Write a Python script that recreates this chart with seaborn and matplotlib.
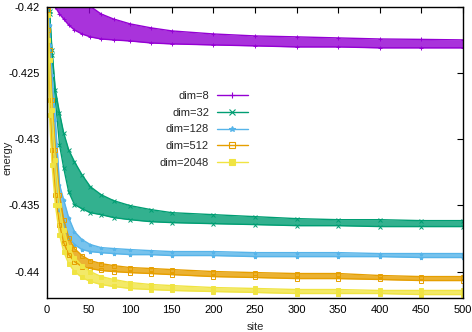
import numpy as np
import pandas as pd
import matplotlib
matplotlib.use('Agg')
import matplotlib.pyplot as plt
from matplotlib.lines import Line2D
from matplotlib.ticker import FuncFormatter
import seaborn as sns

# sample sites (the data zigzag between an upper and a lower value, read as envelopes)
sites = [1, 3, 6, 10, 15, 20, 26, 33, 42, 52, 65, 80, 100, 125, 150,
         200, 250, 300, 350, 400, 450, 500]

e8_hi = [-0.4170, -0.4172, -0.4175, -0.4178, -0.4182, -0.4186, -0.4190, -0.4194,
         -0.4197, -0.41995, -0.42053, -0.42091, -0.42128, -0.42158, -0.42181,
         -0.42204, -0.42219, -0.42226, -0.42234, -0.42242, -0.42245, -0.42249]
e8_lo = [-0.4185, -0.4188, -0.4193, -0.4200, -0.42053, -0.42091, -0.42136, -0.42174,
         -0.42204, -0.42226, -0.42242, -0.42249, -0.42257, -0.42272, -0.42279,
         -0.42287, -0.42294, -0.42302, -0.42302, -0.42309, -0.42309, -0.42309]

e32_hi = [-0.4190, -0.4203, -0.42325, -0.42626, -0.42800, -0.42951, -0.43079, -0.43170,
          -0.43268, -0.43358, -0.43419, -0.43464, -0.43502, -0.43532, -0.43555,
          -0.43570, -0.43585, -0.43600, -0.43608, -0.43608, -0.43615, -0.43615]
e32_lo = [-0.4195, -0.4205, -0.42362, -0.42702, -0.43041, -0.43215, -0.43396, -0.43494,
          -0.43525, -0.43555, -0.43570, -0.43592, -0.43608, -0.43623, -0.43630,
          -0.43638, -0.43645, -0.43653, -0.43653, -0.43660, -0.43660, -0.43660]

e128_hi = [-0.4192, -0.42136, -0.42513, -0.42853, -0.43343, -0.43457, -0.43592, -0.43698,
           -0.43758, -0.43796, -0.43819, -0.43826, -0.43834, -0.43842, -0.43849,
           -0.43849, -0.43857, -0.43857, -0.43857, -0.43864, -0.43864, -0.43864]
e128_lo = [-0.4197, -0.42287, -0.42777, -0.43155, -0.43532, -0.43645, -0.43743, -0.43796,
           -0.43834, -0.43849, -0.43857, -0.43864, -0.43872, -0.43872, -0.43879,
           -0.43879, -0.43887, -0.43887, -0.43887, -0.43887, -0.43894, -0.43894]

e512_hi = [-0.42023, -0.42325, -0.42702, -0.43079, -0.43419, -0.43608, -0.43743, -0.43826,
           -0.43879, -0.43917, -0.43940, -0.43955, -0.43970, -0.43977, -0.43985,
           -0.44000, -0.44008, -0.44015, -0.44015, -0.44030, -0.44038, -0.44038]
e512_lo = [-0.42174, -0.42702, -0.43079, -0.43419, -0.43645, -0.43781, -0.43872, -0.43925,
           -0.43962, -0.43977, -0.43992, -0.44000, -0.44008, -0.44015, -0.44023,
           -0.44038, -0.44045, -0.44053, -0.44053, -0.44060, -0.44068, -0.44068]

e2048_hi = [-0.42060, -0.42400, -0.42777, -0.43155, -0.43494, -0.43683, -0.43811, -0.43894,
            -0.43955, -0.44000, -0.44038, -0.44060, -0.44083, -0.44098, -0.44106,
            -0.44121, -0.44128, -0.44136, -0.44136, -0.44143, -0.44143, -0.44143]
e2048_lo = [-0.42249, -0.42815, -0.43192, -0.43494, -0.43721, -0.43849, -0.43940, -0.44000,
            -0.44045, -0.44075, -0.44098, -0.44113, -0.44128, -0.44136, -0.44143,
            -0.44151, -0.44158, -0.44166, -0.44166, -0.44166, -0.44174, -0.44174]

labels = ['dim=8', 'dim=32', 'dim=128', 'dim=512', 'dim=2048']
colors = ['#9400D3', '#009E73', '#56B4E9', '#E69F00', '#F0E442']
markers = ['+', 'x', '*', 's', 's']
highs = [e8_hi, e32_hi, e128_hi, e512_hi, e2048_hi]
lows = [e8_lo, e32_lo, e128_lo, e512_lo, e2048_lo]

xticks = [0, 50, 100, 150, 200, 250, 300, 350, 400, 450, 500]
yticks = [-0.44, -0.435, -0.43, -0.425, -0.42]

sns.set_style('white')
plt.rcParams['font.family'] = ['Liberation Sans', 'DejaVu Sans']
plt.rcParams['font.size'] = 8

fig = plt.figure(figsize=(4.72, 3.32), dpi=100)
ax = fig.add_axes([0.0996, 0.1024, 0.8814, 0.8766])

for lab, c, m, hi, lo in zip(labels, colors, markers, highs, lows):
    ax.fill_between(sites, lo, hi, color=c, alpha=0.8, linewidth=0)
    mfc = 'none' if lab == 'dim=512' else c
    for edge in (hi, lo):
        sns.lineplot(x=sites, y=edge, ax=ax, color=c, linewidth=1.0,
                     marker=m, markersize=2.5, markeredgecolor=c,
                     markerfacecolor=mfc, markeredgewidth=0.7)

ax.set_xlim(0, 500)
ax.set_ylim(-0.442, -0.42)
ax.set_xticks(xticks)
ax.set_yticks(yticks)
ax.yaxis.set_major_formatter(FuncFormatter(lambda v, p: '%g' % round(v, 4)))
ax.tick_params(direction='in', length=4, width=0.8, top=True, right=True,
               labelsize=8, colors='black', pad=5)
for s in ax.spines.values():
    s.set_color('black')
    s.set_linewidth(1.0)
ax.set_xlabel('site', fontsize=8, labelpad=5)
ax.set_ylabel('energy', fontsize=8)
ax.yaxis.set_label_coords(-0.084, 0.48)

handles = []
for lab, c, m in zip(labels, colors, markers):
    mfc = 'none' if lab == 'dim=512' else c
    handles.append(Line2D([0], [0], color=c, linewidth=1.0, marker=m, markersize=4,
                          markeredgecolor=c, markerfacecolor=mfc, markeredgewidth=0.8))
ax.legend(handles, labels, loc='center', bbox_to_anchor=(0.377, 0.579),
          frameon=False, markerfirst=False, handlelength=2.8, handletextpad=0.7,
          labelspacing=0.62, borderpad=0, fontsize=8)

fig.savefig('out.png', dpi=100)
